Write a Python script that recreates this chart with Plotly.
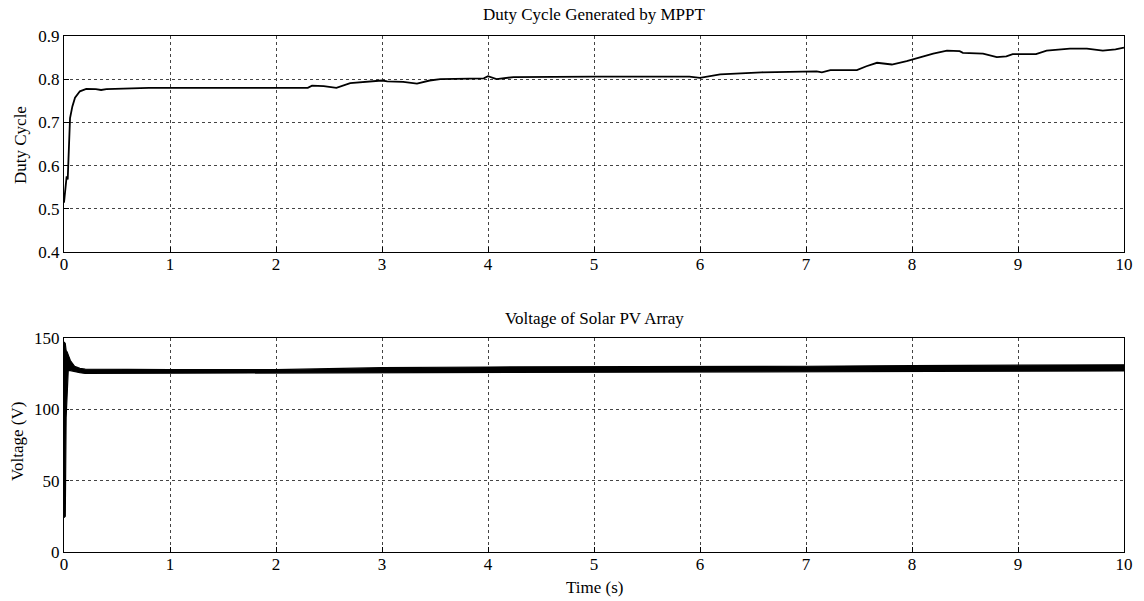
import plotly.graph_objects as go
from plotly.subplots import make_subplots

# Duty cycle generated by MPPT
duty_t = [0, 0.012, 0.025, 0.035, 0.047, 0.057, 0.079, 0.104, 0.15, 0.21, 0.3, 0.35, 0.4, 0.6, 0.8,
          1.5, 2.3, 2.34, 2.45, 2.57, 2.7, 3.0, 3.05, 3.2, 3.33, 3.45, 3.55, 3.96, 4.0, 4.08, 4.24,
          5.0, 5.9, 6.0, 6.19, 6.58, 7.1, 7.15, 7.23, 7.48, 7.57, 7.67, 7.81, 7.95, 8.08, 8.2, 8.33,
          8.45, 8.48, 8.67, 8.8, 8.89, 8.95, 9.17, 9.27, 9.49, 9.65, 9.8, 9.92, 10]
duty_v = [0.514, 0.55, 0.575, 0.568, 0.66, 0.71, 0.737, 0.757, 0.772, 0.7775, 0.777, 0.775, 0.777, 0.778, 0.78,
          0.78, 0.78, 0.785, 0.784, 0.78, 0.791, 0.797, 0.795, 0.794, 0.79, 0.797, 0.80, 0.802, 0.807, 0.80, 0.805,
          0.806, 0.806, 0.803, 0.811, 0.816, 0.818, 0.816, 0.821, 0.821, 0.830, 0.838, 0.834, 0.842, 0.851, 0.859, 0.866,
          0.865, 0.861, 0.859, 0.851, 0.853, 0.858, 0.858, 0.866, 0.871, 0.871, 0.866, 0.869, 0.873]

# Voltage of solar PV array: upper / lower envelope of the noisy trace
volt_t = [0, 0.012, 0.02, 0.03, 0.04, 0.06, 0.1, 0.15, 0.2, 0.5, 1, 2, 2.5, 3, 4, 5, 6, 7, 8, 9, 10]
volt_hi = [147, 146, 141, 140, 138, 134, 130, 128.5, 128, 127.8, 127.6, 127.6, 128.3, 129, 129.5, 129.6,
           129.8, 130, 130.5, 130.7, 131]
volt_lo = [24, 25, 94, 110, 127, 127, 126.5, 125.5, 125, 125, 125, 125, 125.3, 125.5, 125.8, 126, 126,
           126.2, 126.5, 126.5, 126.7]

x_ticks = list(range(0, 11))
duty_ticks = [0.4, 0.5, 0.6, 0.7, 0.8, 0.9]
volt_ticks = [0, 50, 100, 150]

FONT = "Liberation Serif"

fig = make_subplots(rows=2, cols=1)

fig.add_trace(go.Scatter(x=duty_t, y=duty_v, mode="lines",
                         line=dict(color="black", width=1.8), showlegend=False), row=1, col=1)

poly_x = volt_t + volt_t[::-1]
poly_y = volt_hi + volt_lo[::-1]
fig.add_trace(go.Scatter(x=poly_x, y=poly_y, mode="lines", fill="toself",
                         fillcolor="black", line=dict(color="black", width=1.2),
                         showlegend=False), row=2, col=1)

axis_common = dict(showline=True, linecolor="black", linewidth=1, mirror=True,
                   ticks="inside", ticklen=5, tickcolor="black", automargin=False,
                   showgrid=True, gridcolor="#444444", gridwidth=1, griddash="3px,3px",
                   zeroline=False, tickfont=dict(family=FONT, size=17, color="black"))

fig.update_xaxes(range=[0, 10], tickvals=x_ticks, ticklabelstandoff=-3, **axis_common)
fig.update_yaxes(range=[0.4, 0.9], tickvals=duty_ticks, tickformat=".1f", row=1, col=1, **axis_common)
fig.update_yaxes(range=[0, 150], tickvals=volt_ticks, row=2, col=1, **axis_common)

# body margin removed (see post_script), so figure pixels == page pixels
W, H = 1144, 600
L, R, T, B = 64, 20, 36, 48
plot_w = W - L - R   # 1060
plot_h = H - T - B   # 516; plot bottom at page y=552


def px(x):
    return (x - L) / plot_w


def py(y):
    return (H - B - y) / plot_h


def label(text, x, y, angle=0):
    return dict(text=text, x=px(x), y=py(y), xref="paper", yref="paper",
                xanchor="center", yanchor="middle", textangle=angle,
                showarrow=False, font=dict(family=FONT, size=17, color="black"))


fig.update_layout(
    width=W, height=H,
    margin=dict(l=L, r=R, t=T, b=B, autoexpand=False),
    plot_bgcolor="white", paper_bgcolor="white",
    font=dict(family=FONT, color="black", size=17),
    xaxis=dict(domain=[0, 1]),
    yaxis=dict(domain=[py(252), 1.0]),
    yaxis2=dict(domain=[0, py(337.7)]),
    annotations=[
        label("Duty Cycle Generated by MPPT", 594, 15),
        label("Voltage of Solar PV Array", 594, 318),
        label("Time (s)", 594, 587),
        label("Duty Cycle", 20, 145, -90),
        label("Voltage (V)", 17, 442, -90),
    ],
)

fig.write_html("out.html", config={"displayModeBar": False},
               post_script="document.body.style.margin='0';document.body.style.overflow='hidden';")
